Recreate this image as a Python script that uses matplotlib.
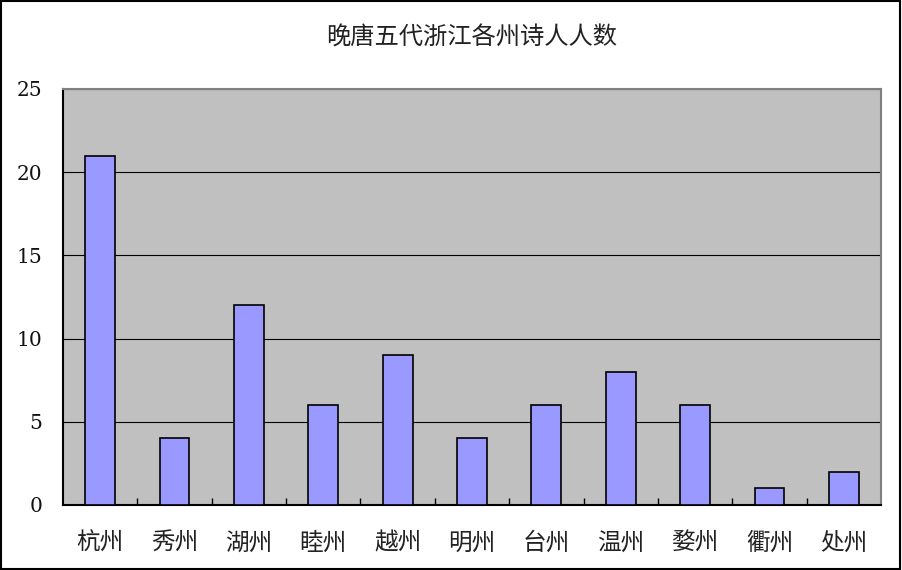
import matplotlib
matplotlib.use("Agg")
import matplotlib.pyplot as plt
from matplotlib.patches import Rectangle

plt.rcParams['font.family'] = ['Noto Sans CJK SC', 'DejaVu Sans']

# data
prefectures = ['杭州', '秀州', '湖州', '睦州', '越州', '明州', '台州', '温州', '婺州', '衢州', '处州']
poets = [21, 4, 12, 6, 9, 4, 6, 8, 6, 1, 2]
yticks = [0, 5, 10, 15, 20, 25]

fig = plt.figure(figsize=(9.02, 5.70), dpi=100)
ax = fig.add_axes([63/902, 1-505/570, 818/902, 416/570])

# border around the whole chart
fig.patches.append(Rectangle((0.001, 0.002), 0.997, 0.996, transform=fig.transFigure,
                             fill=False, edgecolor='black', linewidth=1.5))

ax.set_facecolor('#c0c0c0')
x = list(range(len(prefectures)))
ax.bar(x, poets, width=0.4, color='#9999ff', edgecolor='black', linewidth=1.2, zorder=3)

ax.set_xlim(-0.5, len(prefectures) - 0.5)
ax.set_ylim(0, 25)
ax.set_yticks(yticks)
ax.set_yticklabels([str(v) for v in yticks], family='DejaVu Serif', fontsize=14.5, color='#111111')
ax.yaxis.grid(True, color='black', linewidth=0.8, zorder=1)
ax.tick_params(axis='y', length=0, pad=15)

ax.set_xticks(x)
ax.set_xticklabels(prefectures, fontsize=17, color='#222222')
ax.tick_params(axis='x', length=0, pad=19)
# inward ticks between categories
ax.set_xticks([i + 0.5 for i in range(len(prefectures) - 1)], minor=True)
ax.tick_params(axis='x', which='minor', direction='in', length=5, width=1, color='black')

for side in ['top', 'right']:
    ax.spines[side].set_color('#808080')
    ax.spines[side].set_linewidth(1.5)
for side in ['left', 'bottom']:
    ax.spines[side].set_color('black')
    ax.spines[side].set_linewidth(1.5)

fig.text(472/902, 1-38/570, '晚唐五代浙江各州诗人人数', ha='center', va='center',
         fontsize=17.5, color='#222222')

fig.savefig('out.png', dpi=100)
